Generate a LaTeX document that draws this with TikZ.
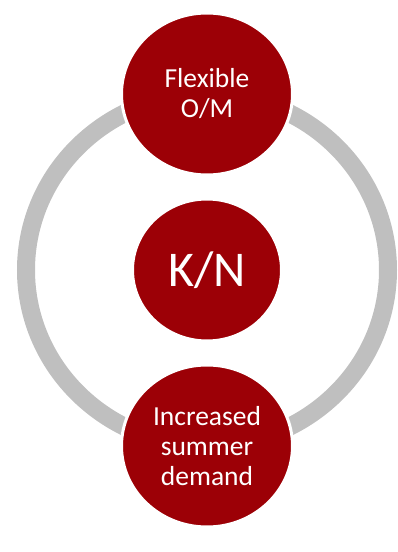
\documentclass[tikz,border=0pt]{standalone}
\usepackage{fontspec}
\setmainfont{Carlito}
\usepackage{tikz}
\usetikzlibrary{positioning,shapes.geometric}
\definecolor{granate}{HTML}{9C0006}
\definecolor{gris}{HTML}{BFBFBF}

\begin{document}
\begin{tikzpicture}[
  x=1pt, y=1pt,
  node distance=24pt,
  burbuja/.style={ellipse, fill=granate, draw=white, line width=3pt, outer sep=0pt, inner sep=0pt, text=white, align=center, minimum width=171pt, minimum height=162pt, font=\fontsize{27.5}{30}\selectfont},
  centro/.style={burbuja, minimum width=149pt, minimum height=142pt, font=\fontsize{50}{60}\selectfont},
  anillo/.style={draw=gris, line width=18pt}
]
\useasboundingbox (0,0) rectangle (397,552);
\node[centro] (kn) at (207,282) {K/N};
\draw[anillo] (kn.center) ellipse [x radius=181, y radius=176];
\node[burbuja, above=of kn] (om) {Flexible\\O/M};
\node[burbuja, below=of kn] (demanda) {Increased\\summer\\demand};
\end{tikzpicture}
\end{document}
